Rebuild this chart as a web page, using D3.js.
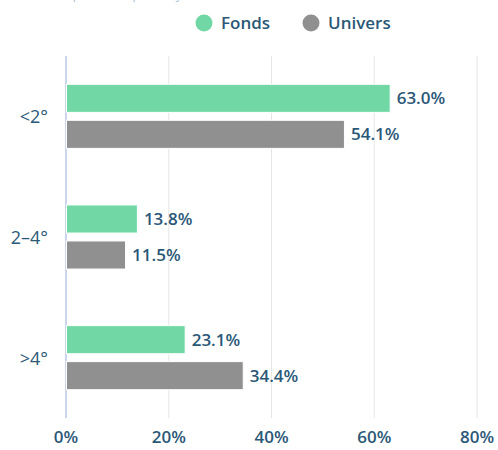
<!DOCTYPE html>
<html>
<head>
<meta charset="utf-8">
<script src="https://cdn.jsdelivr.net/npm/d3@7"></script>
<style>
  body { margin: 0; background: #fff; }
  svg { display: block; font-family: "Open Sans", sans-serif; }
</style>
</head>
<body>
<svg id="chart"></svg>
<script>
// Temperature buckets, fund vs universe
const categories = ["<2°", "2–4°", ">4°"];
const seriesNames = ["Fonds", "Univers"];
const fondsValues = [63.0, 13.8, 23.1];
const universValues = [54.1, 11.5, 34.4];
const xTicks = [0, 20, 40, 60, 80];

const width = 498, height = 450;
const colors = { Fonds: "#71d8a5", Univers: "#919090" };
const textColor = "#2b5877";

const svg = d3.select("#chart")
    .attr("width", width)
    .attr("height", height);

const x = d3.scaleLinear().domain([0, 80]).range([66, 477]);
const y = d3.scaleBand().domain(categories).range([56, 418]);
const inner = d3.scaleBand().domain(seriesNames).range([-36, 36]).paddingInner(0.22).paddingOuter(0.11);

// faint cut-off title at the very top (only descenders show)
svg.append("text")
    .attr("x", 56).attr("y", -2.5)
    .attr("fill", "#b5c8d6")
    .attr("font-size", 14)
    .text("Répartition par trajectoire");

// grid lines
svg.append("g").selectAll("line")
    .data(xTicks.filter(d => d > 0))
    .enter().append("line")
    .attr("x1", d => x(d)).attr("x2", d => x(d))
    .attr("y1", 56).attr("y2", 418)
    .attr("stroke", "#e6e6e6")
    .attr("stroke-width", 1);

svg.append("line")
    .attr("x1", x(0)).attr("x2", x(0))
    .attr("y1", 56).attr("y2", 418)
    .attr("stroke", "#ccd6eb")
    .attr("stroke-width", 2);

// x axis labels
svg.append("g").selectAll("text")
    .data(xTicks)
    .enter().append("text")
    .attr("x", d => x(d))
    .attr("y", 443)
    .attr("text-anchor", "middle")
    .attr("fill", textColor)
    .attr("font-size", 17)
    .attr("font-weight", 600)
    .text(d => d + "%");

// category labels
svg.append("g").selectAll("text")
    .data(categories)
    .enter().append("text")
    .attr("x", 48)
    .attr("y", d => y(d) + y.bandwidth() / 2 + 7)
    .attr("text-anchor", "end")
    .attr("fill", textColor)
    .attr("font-size", 18)
    .text(d => d);

const rows = [];
categories.forEach((c, i) => {
    rows.push({ cat: c, series: "Fonds", value: fondsValues[i] });
    rows.push({ cat: c, series: "Univers", value: universValues[i] });
});

const bars = svg.append("g");
bars.selectAll("rect")
    .data(rows)
    .enter().append("rect")
    .attr("x", x(0) + 0.5)
    .attr("y", d => y(d.cat) + y.bandwidth() / 2 + inner(d.series))
    .attr("width", d => x(d.value) - x(0))
    .attr("height", inner.bandwidth())
    .attr("fill", d => colors[d.series])
    .attr("stroke", "#fff")
    .attr("stroke-width", 1);

bars.selectAll("text")
    .data(rows)
    .enter().append("text")
    .attr("x", d => x(d.value) + 7)
    .attr("y", d => y(d.cat) + y.bandwidth() / 2 + inner(d.series) + inner.bandwidth() / 2 + 6)
    .attr("fill", textColor)
    .attr("font-size", 17)
    .attr("font-weight", 600)
    .text(d => d.value.toFixed(1) + "%");

// legend
const legendPos = { Fonds: 204, Univers: 311 };
const legend = svg.append("g").selectAll("g")
    .data(seriesNames)
    .enter().append("g")
    .attr("transform", d => `translate(${legendPos[d]}, 23)`);
legend.append("circle")
    .attr("r", 8.5)
    .attr("fill", d => colors[d]);
legend.append("text")
    .attr("x", 17)
    .attr("y", 6)
    .attr("fill", textColor)
    .attr("font-size", 17)
    .attr("font-weight", 600)
    .text(d => d);
</script>
</body>
</html>
